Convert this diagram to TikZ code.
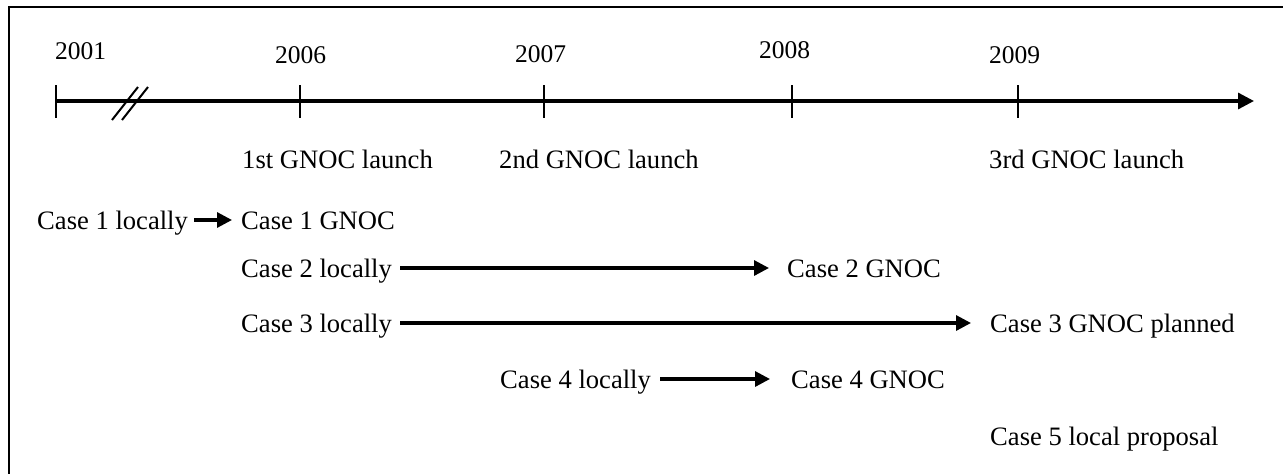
\documentclass[tikz,border=0pt]{standalone}
\usepackage{fontspec}
\setmainfont{Liberation Serif}
\usetikzlibrary{arrows.meta}
\begin{document}
\begin{tikzpicture}[x=1pt,y=-1pt,
  lbl/.style={font=\fontsize{26.6}{30}\selectfont, inner sep=0pt, anchor=base west,
              text height=18pt, text depth=0pt},
  yr/.style={font=\fontsize{25.5}{30}\selectfont, inner sep=0pt, anchor=base west},
  axis/.style={line width=3.2pt, -{Triangle[length=16pt,width=16pt]}},
  tickmark/.style={line width=2.6pt},
  breakmark/.style={line width=2pt},
  flow/.style={line width=3.2pt, -{Triangle[length=15pt,width=15pt]}},
]
\useasboundingbox (0,0) rectangle (1283,474);
% frame
\draw[line width=2.6pt] (9,474) -- (9,7) -- (1283,7);

% time axis
\coordinate (t01) at (56,101);
\coordinate (t06) at (300,101);
\coordinate (t07) at (544,101);
\coordinate (t08) at (792,101);
\coordinate (t09) at (1018,101);
\coordinate (tend) at (1254,101);
\draw[axis] (t01) -- (tend);
\foreach \c in {t01,t06,t07,t08,t09}
  \draw[tickmark] ([yshift=16pt]\c) -- ([yshift=-17pt]\c);
% break in the scale
\draw[breakmark] (112,120) -- (138,87);
\draw[breakmark] (122,120) -- (148,87);

% years
\node[yr] (y01) at (55,59) {2001};
\node[yr] (y06) at (275,63) {2006};
\node[yr] (y07) at (515,62) {2007};
\node[yr] (y08) at (759,58) {2008};
\node[yr] (y09) at (989,63) {2009};

% launches
\node[lbl] (g1) at (242,168) {1st GNOC launch};
\node[lbl] (g2) at (499,168) {2nd GNOC launch};
\node[lbl] (g3) at (989,168) {3rd GNOC launch};

% cases
\node[lbl] (c1l) at (37,229) {Case 1 locally};
\node[lbl] (c1g) at (241,229) {Case 1 GNOC};
\node[lbl] (c2l) at (241,277) {Case 2 locally};
\node[lbl] (c2g) at (787,277) {Case 2 GNOC};
\node[lbl] (c3l) at (241,332) {Case 3 locally};
\node[lbl] (c3g) at (990,332) {Case 3 GNOC planned};
\node[lbl] (c4l) at (500,388) {Case 4 locally};
\node[lbl] (c4g) at (791,388) {Case 4 GNOC};
\node[lbl] (c5) at (990,445) {Case 5 local proposal};

\draw[flow] ([xshift=6pt]c1l.east) -- ([xshift=-9pt]c1g.west);
\draw[flow] ([xshift=8pt]c2l.east) -- ([xshift=-18pt]c2g.west);
\draw[flow] ([xshift=8pt]c3l.east) -- ([xshift=-19pt]c3g.west);
\draw[flow] ([xshift=9pt]c4l.east) -- ([xshift=-21pt]c4g.west);
\end{tikzpicture}
\end{document}
